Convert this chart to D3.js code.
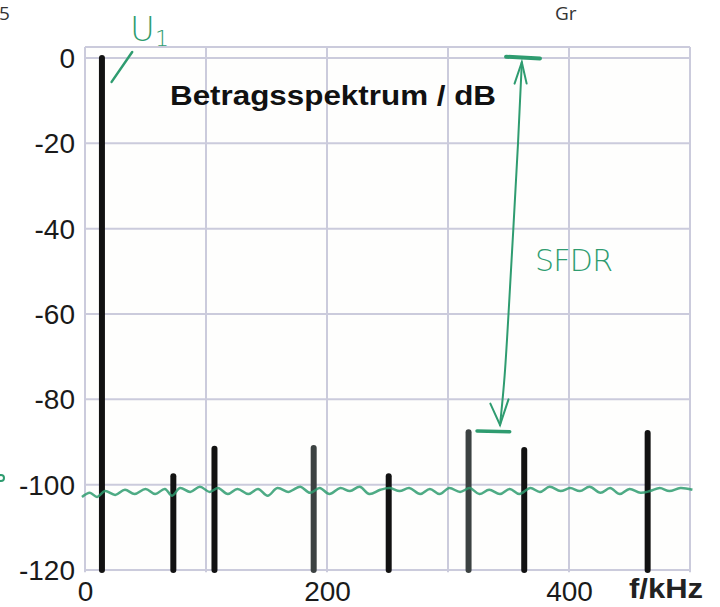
<!DOCTYPE html>
<html>
<head>
<meta charset="utf-8">
<script src="https://cdn.jsdelivr.net/npm/d3@7"></script>
<style>
  body { margin: 0; background: #fff; }
  svg { display: block; }
</style>
</head>
<body>
<script>
// spectral lines (kHz, dB)
var lineFreq = [14, 73, 107, 189, 251, 317, 363, 465];
var lineDb   = [0, -98, -91.6, -91.4, -98, -87.7, -91.9, -87.9];
var lineGrey = [false, false, false, true, false, true, false, false];

// hand drawn noise floor
var noiseFreq = [-2.5, 4, 10, 16.5, 25, 33, 41, 50, 58, 66, 72, 78.5, 87, 95, 103, 110, 118, 126, 135, 143, 151, 159, 168,
  172, 178, 186, 194, 202, 211, 219, 227, 235, 244, 252, 260, 268, 277, 285, 293, 301, 310, 318, 326, 334,
  343, 351, 359, 368, 376, 384, 393, 401, 409, 417, 426, 434, 442, 450, 459, 467, 475, 483, 492, 502];
var noiseDb = [-102.9, -101.9, -102.9, -101.5, -102.4, -101.2, -102.2, -101.0, -102.2, -101.0, -102.6, -100.8, -101.7, -100.5, -101.7, -100.8, -102.2, -101.0, -102.2, -101.0, -102.6, -100.8, -101.7,
  -101.2, -100.5, -101.9, -100.8, -102.2, -100.8, -101.5, -100.5, -102.2, -101.2, -100.8, -101.5, -100.8, -102.2, -101.0, -102.2, -100.8, -101.7, -100.8, -102.2, -101.2,
  -102.2, -101.0, -102.2, -100.8, -101.7, -100.5, -101.5, -100.8, -101.5, -100.5, -101.9, -100.8, -102.2, -101.0, -101.9, -101.5, -100.8, -101.5, -100.8, -101.2];

var xTicks = [0, 200, 400];
var xGrid = [0, 100, 200, 300, 400, 500];
var yTicks = [0, -20, -40, -60, -80, -100, -120];

var green = '#2f9c70';
var sans = 'Liberation Sans, Arial, sans-serif';

var svg = d3.select('body').append('svg').attr('width', 720).attr('height', 607);

var x = d3.scaleLinear().domain([0, 500]).range([85, 690]);
var y = d3.scaleLinear().domain([-120, 0]).range([570, 58]);

// plot area
svg.append('rect').attr('x', x(0)).attr('y', y(2.6))
  .attr('width', x(500) - x(0)).attr('height', y(-120.5) - y(2.6))
  .attr('fill', '#fefefd');

// grid
var grid = svg.append('g').attr('stroke', '#cbcbdc').attr('stroke-width', 2);
grid.selectAll('line.v').data(xGrid).enter().append('line').attr('class', 'v')
  .attr('x1', d => x(d)).attr('x2', d => x(d))
  .attr('y1', y(2.6)).attr('y2', y(-120.5));
grid.selectAll('line.h').data(yTicks.concat([2.6])).enter().append('line').attr('class', 'h')
  .attr('x1', x(0)).attr('x2', x(500))
  .attr('y1', d => y(d)).attr('y2', d => y(d));

// axis labels (plain hyphen as minus, like the original)
var yAxis = svg.append('g').attr('transform', 'translate(' + (x(0) - 10) + ',0)')
  .call(d3.axisLeft(y).tickValues(yTicks).tickSize(0).tickPadding(0).tickFormat(d => String(d)));
yAxis.select('.domain').remove();
yAxis.selectAll('text').attr('font-family', sans)
  .attr('font-size', 28).attr('fill', '#1a1a1a').attr('dy', '0.34em');

var xAxis = svg.append('g').attr('transform', 'translate(0,' + y(-120) + ')')
  .call(d3.axisBottom(x).tickValues(xTicks).tickSize(0).tickPadding(0).tickFormat(d => String(d)));
xAxis.select('.domain').remove();
xAxis.selectAll('text').attr('font-family', sans)
  .attr('font-size', 28).attr('fill', '#1a1a1a').attr('dy', null).attr('y', 31);

svg.append('text').attr('x', 629).attr('y', 598)
  .attr('font-family', sans).attr('font-weight', 'bold')
  .attr('font-size', 27).attr('fill', '#222')
  .attr('textLength', 74).attr('lengthAdjust', 'spacingAndGlyphs').text('f/kHz');

// title
svg.append('text').attr('x', 170).attr('y', 105)
  .attr('font-family', sans).attr('font-weight', 'bold')
  .attr('font-size', 28).attr('fill', '#111')
  .attr('textLength', 326).attr('lengthAdjust', 'spacingAndGlyphs').text('Betragsspektrum / dB');

// spectral lines
svg.selectAll('line.bar').data(lineFreq).enter().append('line').attr('class', 'bar')
  .attr('x1', d => x(d)).attr('x2', d => x(d))
  .attr('y1', (d, i) => y(lineDb[i])).attr('y2', y(-120))
  .attr('stroke', (d, i) => lineGrey[i] ? '#3c4242' : '#121212')
  .attr('stroke-width', 6).attr('stroke-linecap', 'round');

// noise floor sketch
svg.append('path')
  .datum(noiseFreq.map((f, i) => [f, noiseDb[i]]))
  .attr('d', d3.line().x(d => x(d[0])).y(d => y(d[1])).curve(d3.curveCatmullRom))
  .attr('fill', 'none').attr('stroke', green).attr('stroke-width', 2.5).attr('opacity', 0.85);

// annotations in green
var ann = svg.append('g').attr('stroke', green).attr('fill', 'none')
  .attr('stroke-width', 2.5).attr('stroke-linecap', 'round');
// U1 pointer
ann.append('line').attr('x1', x(22)).attr('y1', y(-5.6)).attr('x2', x(39)).attr('y2', y(1.4));
svg.append('text').attr('x', 130).attr('y', 41)
  .attr('font-family', 'DejaVu Sans, sans-serif').attr('font-weight', 200)
  .attr('font-size', 34).attr('fill', green).text('U')
  .append('tspan').attr('font-size', 22).attr('dy', 5).text('1');

// SFDR marker
ann.append('line').attr('x1', x(348)).attr('x2', x(376)).attr('y1', y(0.3)).attr('y2', y(-0.1)).attr('stroke-width', 4);
ann.append('line').attr('x1', x(324)).attr('x2', x(351)).attr('y1', y(-87.4)).attr('y2', y(-87.6)).attr('stroke-width', 3.5);
var arrowPts = [[361, -1], [358, -20], [354, -40], [350, -60], [347, -75], [343, -86]];
ann.append('path').attr('stroke-width', 2)
  .attr('d', d3.line().x(d => x(d[0])).y(d => y(d[1])).curve(d3.curveBasis)(arrowPts));
ann.append('path').attr('stroke-width', 2)
  .attr('d', d3.line().x(d => x(d[0])).y(d => y(d[1]))([[355, -6], [361, -1], [365, -6]]));
ann.append('path').attr('stroke-width', 2)
  .attr('d', d3.line().x(d => x(d[0])).y(d => y(d[1]))([[335, -81], [343, -86], [350, -80]]));
svg.append('text').attr('x', 535).attr('y', 271)
  .attr('font-family', 'DejaVu Sans, sans-serif').attr('font-weight', 200)
  .attr('font-size', 30).attr('fill', green).attr('textLength', 78).text('SFDR');

// small left-margin mark
svg.append('circle').attr('cx', 1).attr('cy', 478).attr('r', 3)
  .attr('fill', 'none').attr('stroke', green).attr('stroke-width', 2);

// page header fragments
svg.append('text').attr('x', -1).attr('y', 20).attr('font-family', 'Open Sans, sans-serif')
  .attr('font-size', 19).attr('fill', '#333').text('5');
svg.append('text').attr('x', 555).attr('y', 20).attr('font-family', 'Open Sans, sans-serif')
  .attr('font-size', 19).attr('fill', '#333').text('Gr');
</script>
</body>
</html>
